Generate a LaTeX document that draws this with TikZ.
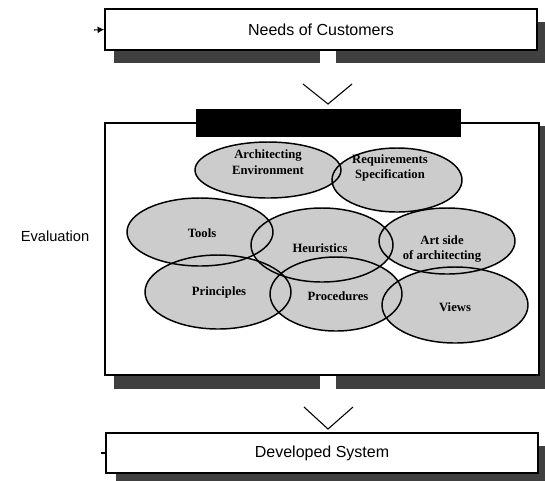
\documentclass[tikz,border=0pt]{standalone}
\usepackage{fontspec}
\setmainfont{Liberation Serif}
\newfontfamily\boxfont{Liberation Sans}
\usetikzlibrary{calc,arrows.meta}

\tikzset{
  stagebox/.style={draw,line width=1.1pt,fill=white,inner sep=0pt,
    font=\boxfont\fontsize{12}{14}\selectfont},
  dropshade/.style={fill=black!75},
  blobfill/.style={fill=black!20},
  blobline/.style={line width=1.1pt},
  blobtext/.style={align=center,inner sep=0pt,
    font=\bfseries\fontsize{9.5}{11.5}\selectfont},
  chevron/.style={line width=0.8pt}
}

\begin{document}
\begin{tikzpicture}[x=0.75pt,y=-0.75pt]
  \useasboundingbox (0,0) rectangle (545,480);

  \node[stagebox,minimum width=324pt,minimum height=30.75pt] (needs) at (321,29.5) {Needs of Customers};
  \fill[dropshade] ($(needs.south west)+(10,0)$) rectangle ($(needs.south east)+(8,12)$);
  \fill[dropshade] ($(needs.north east)+(0,14)$) rectangle ($(needs.south east)+(8,12)$);
  \fill[white] (320,51) rectangle (336,63);
  \coordinate (needsfeed) at (94,30);
  \draw[line width=0.8pt,-{Latex[length=5pt,width=5pt]}] (needsfeed) -- (needs.west);

  \coordinate (chevAl) at (303,84);
  \coordinate (chevAv) at (328,104);
  \coordinate (chevAr) at (352,84);
  \draw[chevron] (chevAl) -- (chevAv) -- (chevAr);

  \node[draw,line width=1.1pt,inner sep=0pt,minimum width=325.5pt,minimum height=189pt] (frame) at (322,249) {};
  \fill[dropshade] ($(frame.south west)+(10,0)$) rectangle ($(frame.south east)+(6,13)$);
  \fill[dropshade] ($(frame.north east)+(0,4)$) rectangle ($(frame.south east)+(6,13)$);
  \fill[white] (320,376) rectangle (336,389);
  \node[fill=black,inner sep=0pt,minimum width=198.75pt,minimum height=21pt] (bar) at (328.5,123) {};

  \foreach \cx/\cy/\rx/\ry in {397/180/65/32, 268/170/73/28, 447/241/68/33, 336/294/66/37,
      200/232/73/34, 322/245/71/37, 218/292/73/37, 455/305/73/38}
    \fill[blobfill] (\cx,\cy) ellipse [x radius=\rx, y radius=\ry];
  \foreach \cx/\cy/\rx/\ry in {397/180/65/32, 268/170/73/28, 447/241/68/33, 336/294/66/37,
      200/232/73/34, 322/245/71/37, 218/292/73/37, 455/305/73/38}
    \draw[blobline] (\cx,\cy) ellipse [x radius=\rx, y radius=\ry];

  \node[blobtext] (req) at (390,168) {Requirements\\Specification};
  \node[blobtext] (arch) at (268,162) {Architecting\\Environment};
  \node[blobtext] (art) at (442,249) {Art side\\of architecting};
  \node[blobtext] (proc) at (338,296) {Procedures};
  \node[blobtext] (tools) at (202,233) {Tools};
  \node[blobtext] (heur) at (320,248) {Heuristics};
  \node[blobtext] (prin) at (219,292) {Principles};
  \node[blobtext] (views) at (455,307) {Views};

  \node[font=\boxfont\fontsize{11}{13}\selectfont] (eval) at (55,236) {Evaluation};

  \coordinate (chevBl) at (304,407);
  \coordinate (chevBv) at (328,429);
  \coordinate (chevBr) at (353,407);
  \draw[chevron] (chevBl) -- (chevBv) -- (chevBr);

  \node[stagebox,minimum width=324pt,minimum height=30pt] (dev) at (322,453) {Developed System};
  \fill[dropshade] ($(dev.south west)+(11,0)$) rectangle ($(dev.south east)+(7,7)$);
  \fill[dropshade] ($(dev.north east)+(0,14)$) rectangle ($(dev.south east)+(7,7)$);
  \coordinate (devfeed) at (101,453);
  \draw[line width=0.8pt] (devfeed) -- (dev.west);
\end{tikzpicture}
\end{document}
